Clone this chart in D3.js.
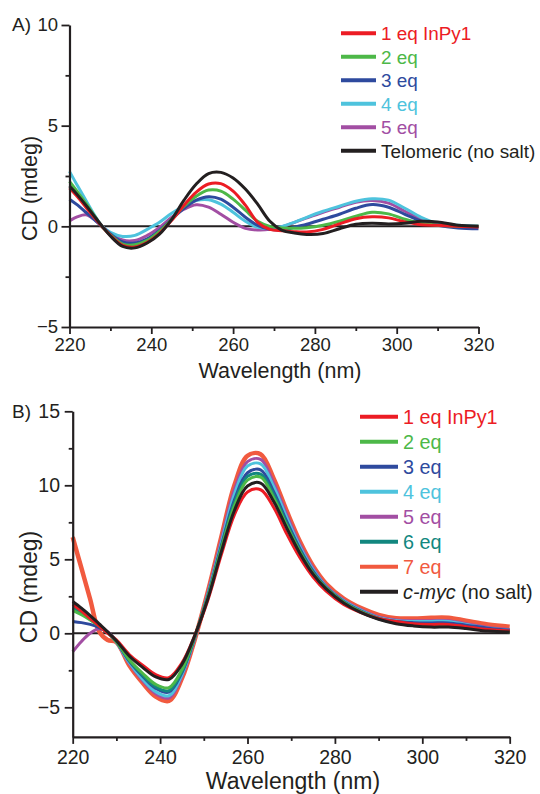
<!DOCTYPE html>
<html>
<head>
<meta charset="utf-8">
<script src="https://cdn.jsdelivr.net/npm/d3@7"></script>
<style>
  body { margin: 0; background: #fff; }
  text { font-family: "Liberation Sans", Arial, sans-serif; fill: #231f20; }
</style>
</head>
<body>
<svg id="chart"></svg>
<script>
// DATA
const wavelengths = [220, 222, 224, 226, 228, 230, 233, 236, 239, 242, 245, 248, 251, 254, 257, 260,
                     263, 266, 269, 272, 275, 278, 282, 286, 290, 294, 298, 302, 306, 310, 315, 320];
const xTicks = [220, 240, 260, 280, 300, 320];

// panel A : telomeric
const namesA = ["1 eq InPy1", "2 eq", "3 eq", "4 eq", "5 eq", "Telomeric (no salt)"];
const telo1 = [1.9, 1.45, 0.95, 0.45, -0.02, -0.45, -0.95, -1.03, -0.8, -0.35, 0.3, 1.05, 1.7, 2.1, 2.12, 1.75,
               1.05, 0.2, -0.15, -0.22, -0.27, -0.28, -0.15, 0.12, 0.38, 0.47, 0.42, 0.22, 0.08, 0.05, 0.0, -0.03];
const telo2 = [2.23, 1.7, 1.15, 0.55, -0.02, -0.42, -0.88, -0.92, -0.7, -0.25, 0.35, 1.0, 1.5, 1.8, 1.75, 1.35,
               0.8, 0.25, 0.0, -0.08, -0.1, -0.07, 0.05, 0.25, 0.5, 0.7, 0.62, 0.35, 0.15, 0.05, 0.0, 0.0];
const telo3 = [1.35, 1.05, 0.7, 0.35, -0.02, -0.38, -0.78, -0.83, -0.62, -0.2, 0.35, 0.9, 1.3, 1.47, 1.35, 0.95,
               0.45, 0.05, -0.15, -0.18, -0.05, 0.1, 0.35, 0.6, 0.9, 1.08, 0.95, 0.6, 0.25, 0.05, -0.08, -0.12];
const telo4 = [2.73, 2.0, 1.3, 0.6, 0.0, -0.3, -0.5, -0.45, -0.15, 0.2, 0.65, 1.0, 1.28, 1.32, 1.1, 0.7,
               0.25, -0.05, -0.1, 0.0, 0.2, 0.45, 0.75, 1.0, 1.25, 1.37, 1.3, 0.9, 0.45, 0.15, 0.05, 0.0];
const telo5 = [0.27, 0.48, 0.57, 0.35, 0.0, -0.35, -0.68, -0.7, -0.45, -0.05, 0.45, 0.85, 1.07, 0.95, 0.6, 0.2,
               -0.1, -0.18, -0.15, -0.02, 0.2, 0.42, 0.7, 0.95, 1.2, 1.28, 1.15, 0.75, 0.35, 0.1, 0.02, 0.0];
const teloNoSalt = [2.0, 1.55, 1.05, 0.52, 0.0, -0.48, -1.0, -1.07, -0.83, -0.39, 0.35, 1.3, 2.1, 2.62, 2.68, 2.4,
                    1.85, 1.1, 0.25, -0.2, -0.33, -0.4, -0.36, -0.12, 0.1, 0.15, 0.12, 0.15, 0.25, 0.22, 0.05, 0.0];

// panel B : c-myc
const namesB = ["1 eq InPy1", "2 eq", "3 eq", "4 eq", "5 eq", "6 eq", "7 eq", "c-myc"];
const myc1 = [1.95, 1.5, 1.0, 0.5, 0.0, -0.45, -1.45, -2.15, -2.8, -3.0, -2.0, -0.1, 2.3, 5.3, 8.0, 9.55,
              9.7, 8.5, 6.7, 5.1, 3.8, 2.85, 1.95, 1.4, 1.0, 0.8, 0.65, 0.6, 0.6, 0.45, 0.25, 0.15];
const myc2 = [1.55, 1.25, 0.9, 0.5, 0.05, -0.55, -1.8, -2.7, -3.45, -3.68, -2.45, -0.15, 2.5, 5.7, 8.6, 10.35,
              10.55, 9.15, 7.25, 5.5, 4.05, 3.05, 2.1, 1.45, 1.0, 0.72, 0.6, 0.55, 0.55, 0.4, 0.2, 0.1];
const myc3 = [0.8, 0.72, 0.6, 0.4, 0.05, -0.55, -1.9, -2.9, -3.72, -3.98, -2.65, -0.2, 2.6, 5.9, 9.0, 10.85,
              11.05, 9.55, 7.55, 5.7, 4.2, 3.1, 2.15, 1.5, 1.02, 0.8, 0.72, 0.7, 0.7, 0.55, 0.35, 0.2];
const myc4 = [1.8, 1.4, 0.95, 0.5, 0.05, -0.6, -2.0, -3.1, -3.95, -4.22, -2.8, -0.25, 2.7, 6.1, 9.4, 11.3,
              11.45, 9.9, 7.8, 5.85, 4.3, 3.15, 2.2, 1.55, 1.05, 0.85, 0.8, 0.8, 0.8, 0.6, 0.35, 0.2];
const myc5 = [-1.25, -0.55, 0.0, 0.3, 0.1, -0.6, -2.05, -3.2, -4.08, -4.37, -2.9, -0.3, 2.8, 6.3, 9.7, 11.6,
              11.75, 10.15, 8.0, 6.0, 4.4, 3.2, 2.25, 1.6, 1.1, 0.9, 0.85, 0.85, 0.85, 0.65, 0.4, 0.25];
const myc6 = [1.7, 1.35, 0.95, 0.5, 0.05, -0.55, -1.85, -2.85, -3.62, -3.88, -2.58, -0.2, 2.55, 5.8, 8.8, 10.6,
              10.75, 9.35, 7.4, 5.6, 4.1, 3.05, 2.1, 1.45, 0.97, 0.7, 0.6, 0.55, 0.55, 0.4, 0.2, 0.1];
const myc7 = [6.5, 4.4, 2.3, 0.15, -0.45, -0.6, -2.2, -3.35, -4.28, -4.57, -3.05, -0.35, 2.9, 6.5, 10.0, 12.0,
              12.1, 10.45, 8.25, 6.2, 4.55, 3.35, 2.35, 1.7, 1.25, 1.02, 1.0, 1.05, 1.05, 0.85, 0.6, 0.45];
const mycNoSalt = [2.15, 1.7, 1.2, 0.65, 0.1, -0.5, -1.55, -2.3, -2.95, -3.12, -2.1, -0.1, 2.4, 5.5, 8.3, 9.95,
                   10.15, 8.9, 7.1, 5.4, 4.0, 3.0, 2.05, 1.4, 0.95, 0.65, 0.5, 0.42, 0.42, 0.32, 0.15, 0.08];

// SET VARIABLES
const ink = "#231f20";
const col = {red: "#ec1c24", green: "#4db848", blue: "#2e4a9e", cyan: "#4ec3dd",
             purple: "#a24ea3", teal: "#12877f", orange: "#f15a3f", black: "#231f20"};

const seriesA = [
  {name: namesA[0], values: telo1, color: col.red},
  {name: namesA[1], values: telo2, color: col.green},
  {name: namesA[2], values: telo3, color: col.blue},
  {name: namesA[3], values: telo4, color: col.cyan},
  {name: namesA[4], values: telo5, color: col.purple},
  {name: namesA[5], values: teloNoSalt, color: col.black, textColor: ink}
];
const seriesB = [
  {name: namesB[0], values: myc1, color: col.red},
  {name: namesB[1], values: myc2, color: col.green},
  {name: namesB[2], values: myc3, color: col.blue},
  {name: namesB[3], values: myc4, color: col.cyan},
  {name: namesB[4], values: myc5, color: col.purple},
  {name: namesB[5], values: myc6, color: col.teal},
  {name: namesB[6], values: myc7, color: col.orange, width: 4.5},
  {name: namesB[7], values: mycNoSalt, color: col.black, textColor: ink, italic: true, suffix: " (no salt)"}
];

const panels = [
  {tag: "A)", tagY: 31, series: seriesA, drawOrder: [4, 3, 2, 1, 0, 5],
   xRange: [69.5, 478.5], yRange: [327, 25], yDomain: [-5, 10],
   yTicks: [-5, 0, 5, 10], yMinor: [-2.5, 2.5, 7.5],
   tickFont: 18.5, titleFont: 21.5, labelPad: 4, yPad: 3.5, xTitleX: 280, xTitleY: 377.5, yTitleY: 188.5,
   legend: {x: 341, y: 33.3, step: 23.5, len: 35, font: 18.9}},
  {tag: "B)", tagY: 418, series: seriesB, drawOrder: [6, 4, 3, 2, 5, 1, 0, 7],
   xRange: [72.7, 509.7], yRange: [736.9, 411.3], yDomain: [-7, 15],
   yTicks: [-5, 0, 5, 10, 15], yMinor: [-2.5, 2.5, 7.5, 12.5],
   tickFont: 19.5, titleFont: 23, labelPad: 6, yPad: 4.7, xTitleX: 293, xTitleY: 788.5, yTitleY: 587,
   legend: {x: 360, y: 416.7, step: 25, len: 38, font: 19.8}}
];

const svg = d3.select('#chart')
              .attr('width', 540)
              .attr('height', 794);

// DRAW
panels.forEach(p => {
  const x = d3.scaleLinear().domain([220, 320]).range(p.xRange);
  const y = d3.scaleLinear().domain(p.yDomain).range(p.yRange);
  const g = svg.append('g');

  // zero line
  g.append('line')
    .attr('x1', x(220)).attr('x2', x(320))
    .attr('y1', y(0)).attr('y2', y(0))
    .attr('stroke', ink).attr('stroke-width', 2);

  // curves
  const line = d3.line()
                 .x((d, i) => x(wavelengths[i]))
                 .y(d => y(d))
                 .curve(d3.curveCatmullRom.alpha(0.5));
  p.drawOrder.forEach(k => {
    const s = p.series[k];
    g.append('path')
      .attr('d', line(s.values))
      .attr('fill', 'none')
      .attr('stroke', s.color)
      .attr('stroke-width', s.width || 3)
      .attr('stroke-linejoin', 'round');
  });

  // axes
  const xAxis = g.append('g')
    .attr('transform', `translate(0,${p.yRange[0]})`)
    .call(d3.axisBottom(x).tickValues(xTicks).tickSize(7).tickSizeOuter(0).tickPadding(p.labelPad).tickFormat(d3.format('d')));
  g.append('g')
    .attr('transform', `translate(0,${p.yRange[0]})`)
    .call(d3.axisBottom(x).tickValues([230, 250, 270, 290, 310]).tickSize(4).tickFormat(''))
    .call(a => a.select('.domain').remove());
  const yAxis = g.append('g')
    .attr('transform', `translate(${p.xRange[0]},0)`)
    .call(d3.axisLeft(y).tickValues(p.yTicks).tickSize(8).tickSizeOuter(0).tickPadding(p.yPad));
  g.append('g')
    .attr('transform', `translate(${p.xRange[0]},0)`)
    .call(d3.axisLeft(y).tickValues(p.yMinor).tickSize(4).tickFormat(''))
    .call(a => a.select('.domain').remove());

  g.selectAll('.domain').attr('stroke', ink).attr('stroke-width', 2.2);
  g.selectAll('.tick line').attr('stroke', ink).attr('stroke-width', 1.8);
  [xAxis, yAxis].forEach(a => a.selectAll('text')
    .style('font-size', p.tickFont + 'px')
    .style('font-family', '"Liberation Sans", Arial, sans-serif')
    .attr('fill', ink));

  // titles
  g.append('text')
    .attr('x', p.xTitleX).attr('y', p.xTitleY)
    .attr('text-anchor', 'middle')
    .style('font-size', p.titleFont + 'px')
    .text('Wavelength (nm)');
  g.append('text')
    .attr('transform', `translate(29,${p.yTitleY}) rotate(-90)`)
    .attr('text-anchor', 'middle')
    .attr('dy', '0.36em')
    .style('font-size', p.titleFont + 'px')
    .text('CD (mdeg)');
  g.append('text')
    .attr('x', 12).attr('y', p.tagY)
    .style('font-size', '19px')
    .text(p.tag);

  // legend
  const lg = p.legend;
  p.series.forEach((s, i) => {
    const cy = lg.y + i * lg.step;
    g.append('line')
      .attr('x1', lg.x).attr('x2', lg.x + lg.len)
      .attr('y1', cy).attr('y2', cy)
      .attr('stroke', s.color).attr('stroke-width', 4);
    const t = g.append('text')
      .attr('x', lg.x + lg.len + 5).attr('y', cy)
      .attr('dy', '0.36em')
      .style('font-size', lg.font + 'px')
      .style('fill', s.textColor || s.color);
    t.append('tspan').style('font-style', s.italic ? 'italic' : 'normal').text(s.name);
    if (s.suffix) t.append('tspan').text(s.suffix);
  });
});
</script>
</body>
</html>
